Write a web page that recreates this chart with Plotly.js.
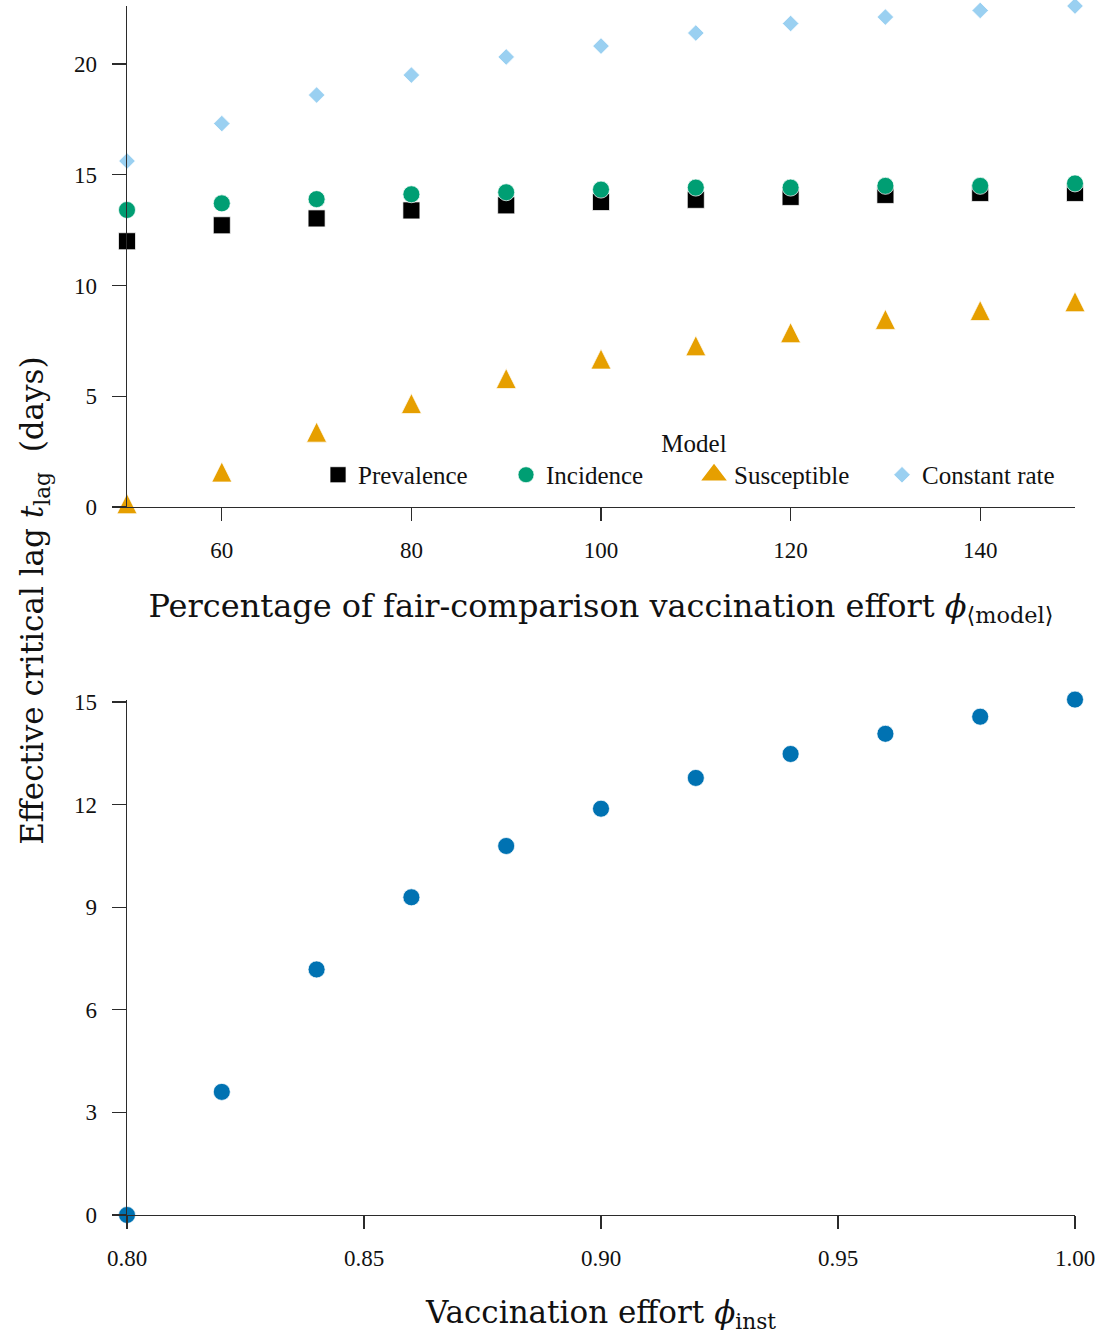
<!DOCTYPE html>
<html>
<head>
<meta charset="utf-8">
<script src="https://cdn.plot.ly/plotly-3.0.1.min.js"></script>
<style>
  html, body { margin: 0; padding: 0; background: #ffffff; }
  #chart { width: 1108px; height: 1335px; }
</style>
</head>
<body>
<div id="chart"></div>
<script>
// Percentage of fair-comparison vaccination effort (top panel x values)
const effortPct = [50, 60, 70, 80, 90, 100, 110, 120, 130, 140, 150];

// Effective critical lag (days) for each model
const lagPrevalence  = [12.00, 12.72, 13.03, 13.39, 13.62, 13.77, 13.87, 14.00, 14.09, 14.18, 14.18];
const lagIncidence   = [13.41, 13.71, 13.90, 14.12, 14.21, 14.33, 14.42, 14.42, 14.50, 14.50, 14.61];
const lagSusceptible = [0.15, 1.58, 3.38, 4.67, 5.80, 6.68, 7.28, 7.87, 8.47, 8.87, 9.27];
const lagConstant    = [15.62, 17.31, 18.60, 19.50, 20.32, 20.81, 21.40, 21.83, 22.12, 22.42, 22.62];

const modelNames = ['Prevalence', 'Incidence', 'Susceptible', 'Constant rate'];

// Instantaneous vaccination effort (bottom panel)
const effortInst = [0.80, 0.82, 0.84, 0.86, 0.88, 0.90, 0.92, 0.94, 0.96, 0.98, 1.00];
const lagInst    = [0.00, 3.60, 7.18, 9.29, 10.79, 11.88, 12.78, 13.48, 14.07, 14.57, 15.07];

const topXTicks = [60, 80, 100, 120, 140];
const topYTicks = [0, 5, 10, 15, 20];
const botXTicks = [0.80, 0.85, 0.90, 0.95, 1.00];
const botYTicks = [0, 3, 6, 9, 12, 15];

const serif = '"Liberation Serif", "Times New Roman", serif';
const titleSerif = '"DejaVu Serif", "Liberation Serif", serif';
const edge = { color: 'rgba(255,255,255,0.9)', width: 0.8 };

const colors = {
  prevalence: '#000000',
  incidence: '#009E73',
  susceptible: '#E69F00',
  constant: 'rgb(154,208,241)',
  inst: '#0072B2'
};

const traces = [
  {
    x: effortPct, y: lagPrevalence, name: modelNames[0], legendrank: 1,
    type: 'scatter', mode: 'markers', xaxis: 'x', yaxis: 'y', cliponaxis: false,
    marker: { symbol: 'square', size: 17, color: colors.prevalence, line: edge }
  },
  {
    x: effortPct, y: lagIncidence, name: modelNames[1], legendrank: 2,
    type: 'scatter', mode: 'markers', xaxis: 'x', yaxis: 'y', cliponaxis: false,
    marker: { symbol: 'circle', size: 17, color: colors.incidence, line: edge }
  },
  {
    // tall triangle: an arrow glyph turned upright and centred on the point
    x: effortPct, y: lagSusceptible, name: modelNames[2], showlegend: false,
    type: 'scatter', mode: 'markers', xaxis: 'x', yaxis: 'y', cliponaxis: false,
    marker: { symbol: 'arrow-down', angle: 180, standoff: 10, size: 20, color: colors.susceptible, line: edge }
  },
  {
    // legend entry for the Susceptible model (outline thickens the capped legend glyph)
    x: [null], y: [null], name: modelNames[2], legendrank: 3,
    type: 'scatter', mode: 'markers', xaxis: 'x', yaxis: 'y',
    marker: { symbol: 'triangle-up', size: 20, color: colors.susceptible,
              line: { color: colors.susceptible, width: 3.5 } }
  },
  {
    x: effortPct, y: lagConstant, name: modelNames[3], legendrank: 4,
    type: 'scatter', mode: 'markers', xaxis: 'x', yaxis: 'y', cliponaxis: false,
    marker: { symbol: 'diamond', size: 12.7, color: colors.constant, line: edge }
  },
  {
    x: effortInst, y: lagInst, name: 'inst', showlegend: false,
    type: 'scatter', mode: 'markers', xaxis: 'x2', yaxis: 'y2', cliponaxis: false,
    marker: { symbol: 'circle', size: 17, color: colors.inst, line: edge }
  }
];

const axisCommon = {
  showline: true, linecolor: '#2b2b2b', linewidth: 1.3,
  ticks: 'outside', ticklen: 13, tickwidth: 1.2, tickcolor: '#2b2b2b',
  showgrid: false, zeroline: false,
  tickfont: { family: serif, size: 23, color: '#111' }
};

const topMax = Math.max(...lagConstant);
const botMax = Math.max(...lagInst);

const layout = {
  width: 1108, height: 1335,
  margin: { l: 127, r: 33, t: 6, b: 120 },
  paper_bgcolor: '#ffffff', plot_bgcolor: '#ffffff',
  font: { family: serif, color: '#111', size: 22 },
  showlegend: true,
  xaxis: Object.assign({}, axisCommon, {
    anchor: 'y', domain: [0, 1],
    range: [Math.min(...effortPct), Math.max(...effortPct)],
    tickvals: topXTicks, ticklabelstandoff: 9,
    title: {
      text: 'Percentage of fair-comparison vaccination effort <i>ϕ</i><sub>⟨model⟩</sub>',
      font: { family: titleSerif, size: 32, color: '#111' }, standoff: 32
    }
  }),
  yaxis: Object.assign({}, axisCommon, {
    anchor: 'x', domain: [0.5856, 1],
    range: [0, topMax], tickvals: topYTicks, ticklen: 14, ticklabelstandoff: 10
  }),
  xaxis2: Object.assign({}, axisCommon, {
    anchor: 'y2', domain: [0, 1],
    range: [Math.min(...effortInst), Math.max(...effortInst)],
    tickvals: botXTicks, tickformat: '.2f', ticklabelstandoff: 9,
    title: {
      text: 'Vaccination effort <i>ϕ</i><sub>inst</sub>',
      font: { family: titleSerif, size: 31, color: '#111' }, standoff: 31
    }
  }),
  yaxis2: Object.assign({}, axisCommon, {
    anchor: 'x2', domain: [0, 0.4263],
    range: [0, botMax], tickvals: botYTicks, ticklen: 14, ticklabelstandoff: 10
  }),
  legend: {
    orientation: 'h',
    x: 0.2015, xanchor: 'left',
    y: 0.6580, yanchor: 'top',
    bgcolor: 'rgba(0,0,0,0)',
    entrywidth: 143,
    traceorder: 'normal',
    font: { family: serif, size: 25, color: '#111' },
    title: { text: 'Model', side: 'top center', font: { family: serif, size: 25, color: '#111' } }
  },
  annotations: [{
    text: 'Effective critical lag <i>t</i><sub>lag</sub>  (days)',
    xref: 'paper', yref: 'paper',
    x: -0.097, y: 0.508, xanchor: 'center', yanchor: 'middle',
    textangle: -90, showarrow: false,
    font: { family: titleSerif, size: 31, color: '#111' }
  }]
};

Plotly.newPlot('chart', traces, layout, { displayModeBar: false, staticPlot: true });
</script>
</body>
</html>
